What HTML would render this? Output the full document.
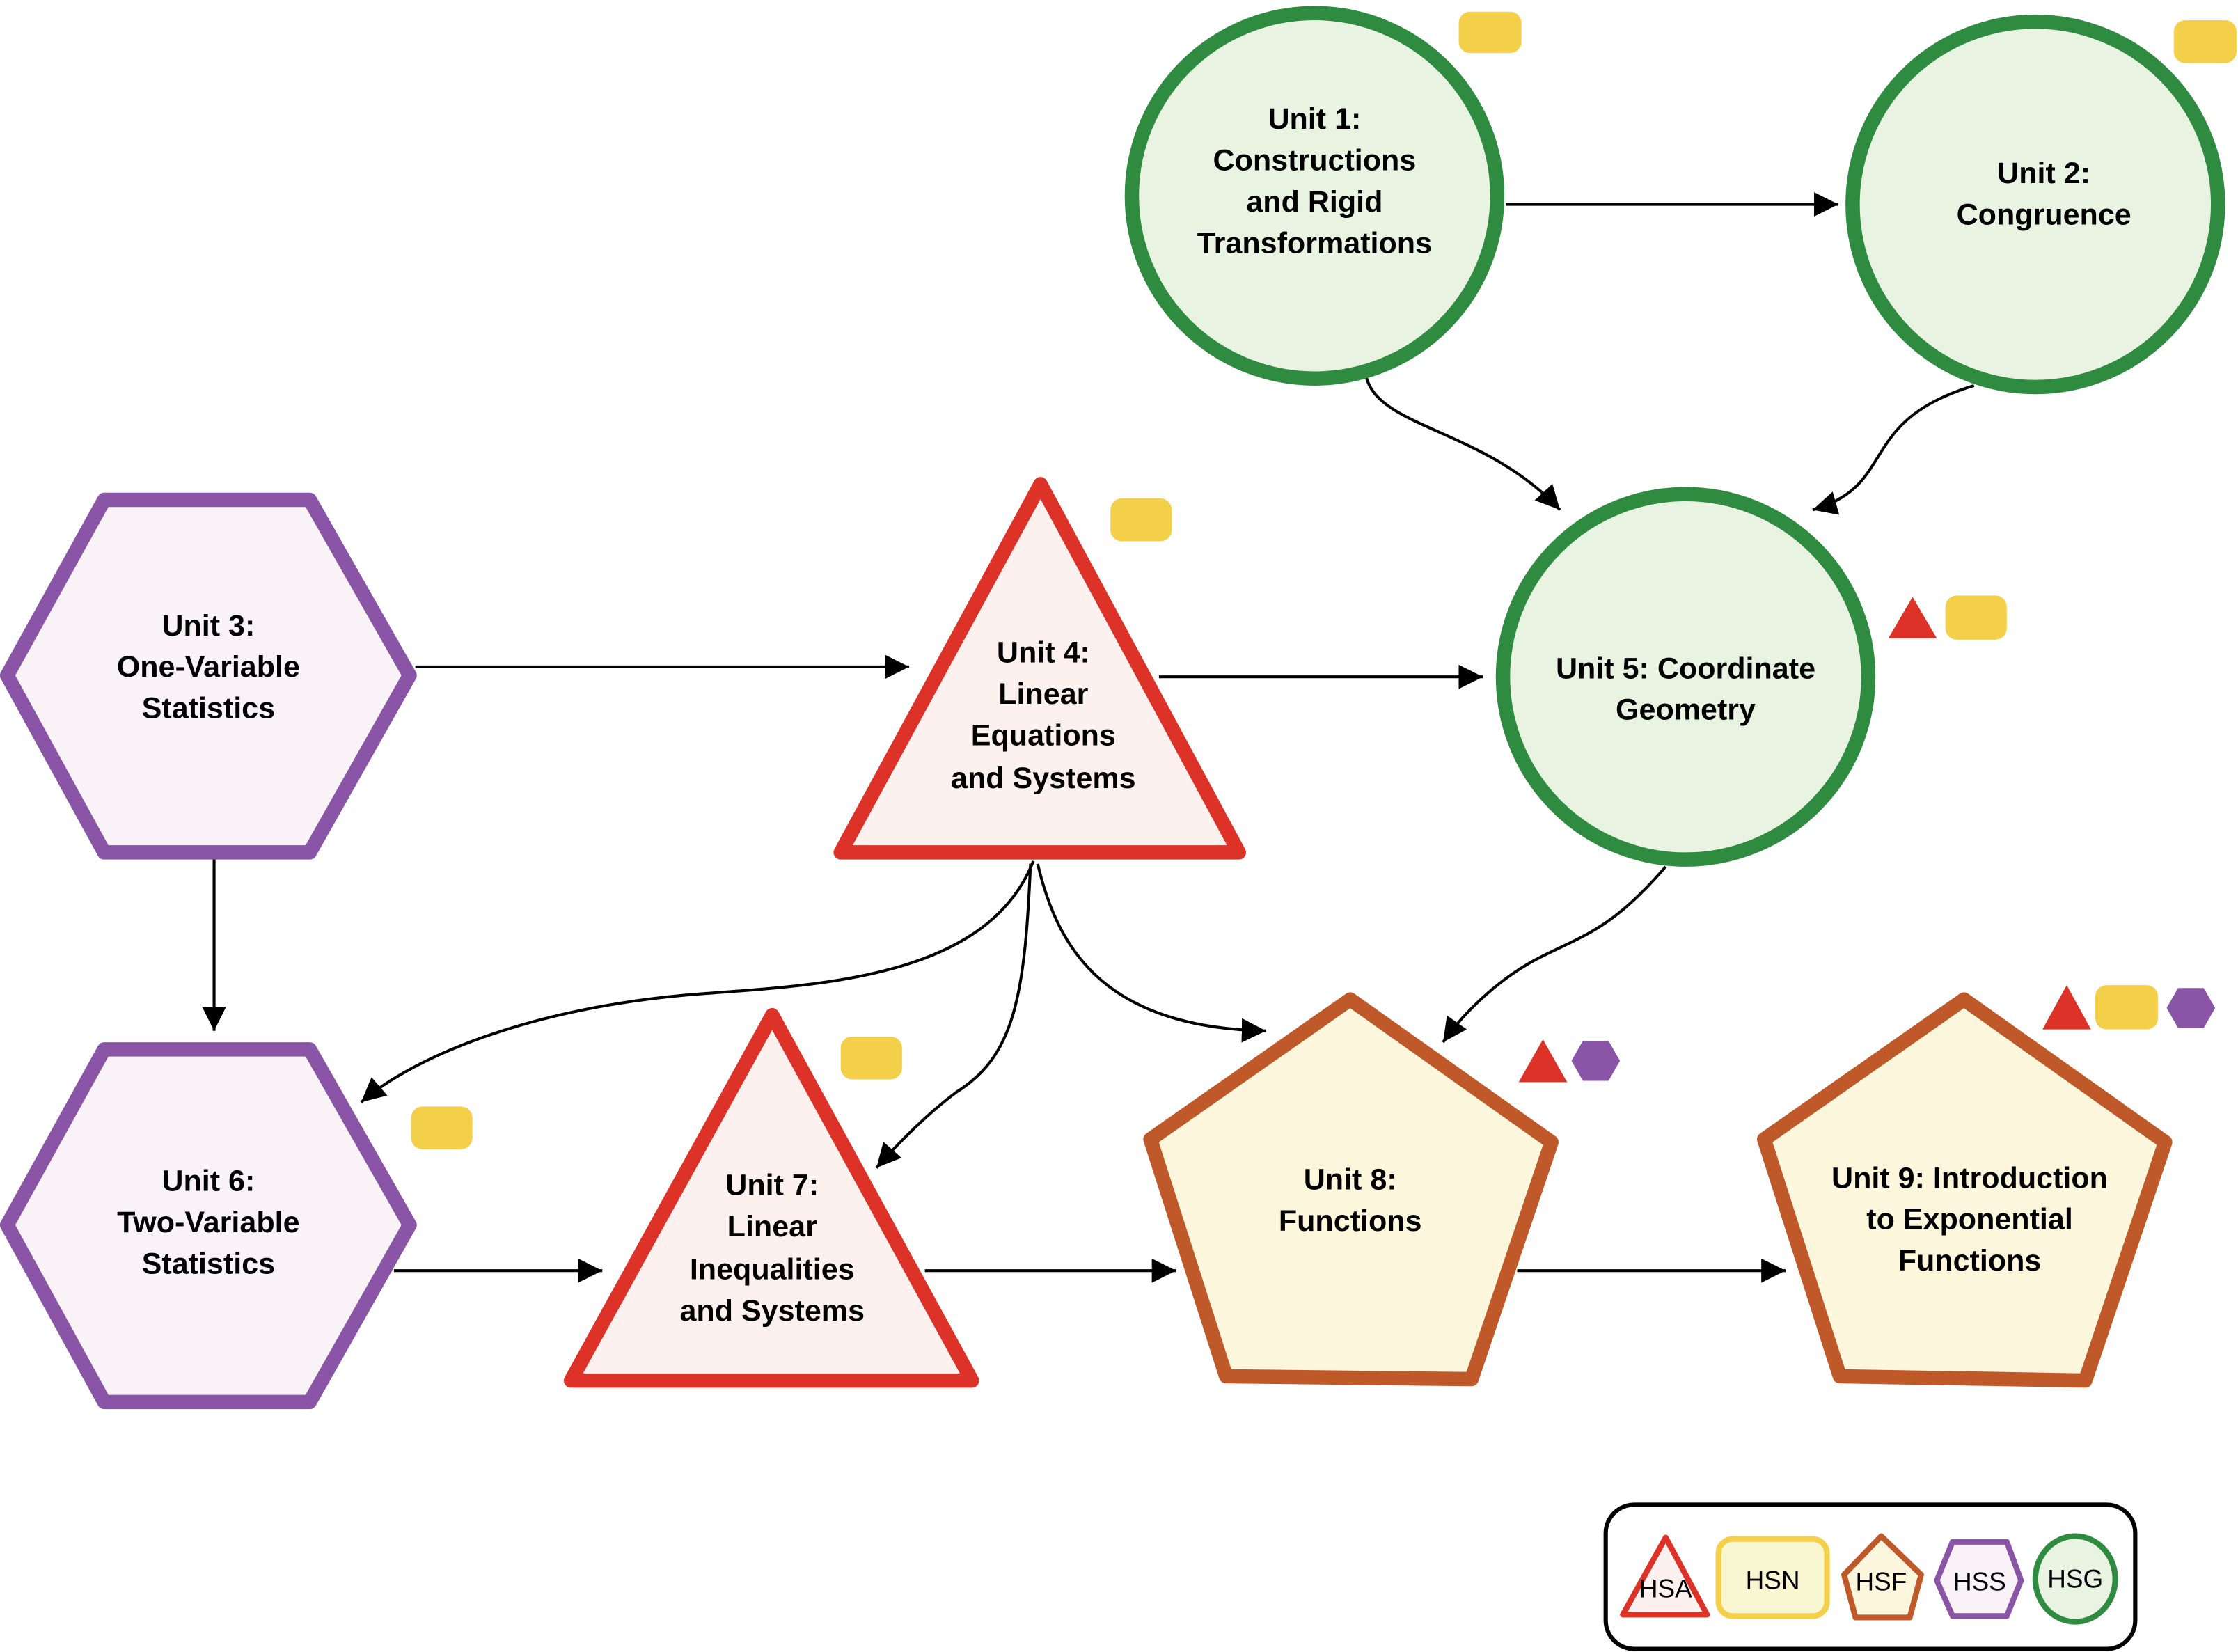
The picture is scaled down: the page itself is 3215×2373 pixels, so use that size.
<!DOCTYPE html>
<html><head><meta charset="utf-8"><style>
html,body{margin:0;padding:0;background:#fff;}
svg{display:block;}
text{font-family:"Liberation Sans",sans-serif;}
.t{font-weight:bold;font-size:21px;fill:#000;text-anchor:middle;}
.l{font-size:18px;fill:#000;text-anchor:middle;}
.a{fill:none;stroke:#000;stroke-width:2;}
</style></head><body>
<svg width="3215" height="2373" viewBox="0 0 1568 1157" xmlns="http://www.w3.org/2000/svg">
<defs><marker id="m" markerWidth="10" markerHeight="10" refX="9" refY="5" orient="auto" markerUnits="userSpaceOnUse"><path d="M0,-3 L18,5 L0,13 Z" transform="scale(0.55) translate(0,0)" fill="#000"/></marker>
<marker id="ar" viewBox="0 0 10 10" refX="10" refY="5" markerWidth="17" markerHeight="17" orient="auto" markerUnits="userSpaceOnUse"><path d="M0,0 L10,5 L0,10 Z" fill="#000"/></marker></defs>
<rect width="1568" height="1157" fill="#fff"/>
<!-- connectors -->
<path class="a" marker-end="url(#ar)" d="M1055,143 L1288,143"/>
<path class="a" marker-end="url(#ar)" d="M957,263 C965,300 1040,300 1093,357"/>
<path class="a" marker-end="url(#ar)" d="M1383,270 C1300,295 1330,340 1270,357"/>
<path class="a" marker-end="url(#ar)" d="M291,467 L637,467"/>
<path class="a" marker-end="url(#ar)" d="M812,474 L1039,474"/>
<path class="a" marker-end="url(#ar)" d="M150,601 L150,722"/>
<path class="a" marker-end="url(#ar)" d="M724,603 C690,690 560,690 480,697 C370,707 290,740 253,772"/>
<path class="a" marker-end="url(#ar)" d="M722,605 C718,700 710,740 670,765 C650,780 630,800 614,818"/>
<path class="a" marker-end="url(#ar)" d="M727,605 C740,660 770,720 887,722"/>
<path class="a" marker-end="url(#ar)" d="M1167,607 C1130,650 1110,655 1080,670 C1050,685 1025,710 1011,730"/>
<path class="a" marker-end="url(#ar)" d="M276,890 L422,890"/>
<path class="a" marker-end="url(#ar)" d="M648,890 L824,890"/>
<path class="a" marker-end="url(#ar)" d="M1063,890 L1251,890"/>
<!-- nodes -->
<g stroke-width="10" stroke-linejoin="round">
<circle cx="921" cy="137" r="128" fill="#e8f3e2" stroke="#2e8b40"/>
<circle cx="1426" cy="143" r="128" fill="#e8f3e2" stroke="#2e8b40"/>
<circle cx="1181" cy="474" r="128" fill="#e8f3e2" stroke="#2e8b40"/>
<polygon points="5,473 73,350 217,350 287,473 217,597 73,597" fill="#f9f3f8" stroke="#8a55a6"/>
<polygon points="5,858 73,735 217,735 287,858 217,982 73,982" fill="#f9f3f8" stroke="#8a55a6"/>
<polygon points="729,339 868,597 589,597" fill="#fdf1ef" stroke="#dc3228"/>
<polygon points="541,711 681,967 400,967" fill="#fdf1ef" stroke="#dc3228"/>
<polygon points="946,700 1087,800 1031,966 859,964 806,798" fill="#fbf6dc" stroke="#c0592a"/>
<polygon points="1376,700 1517,800 1461,967 1289,964 1236,798" fill="#fbf6dc" stroke="#c0592a"/>
</g>
<!-- badges -->
<g fill="#f4d04a">
<rect x="1022" y="8" width="44" height="29" rx="8"/>
<rect x="1523" y="14" width="44" height="30" rx="8"/>
<rect x="778" y="349" width="43" height="30" rx="8"/>
<rect x="1363" y="417" width="43" height="31" rx="8"/>
<rect x="589" y="726" width="43" height="30" rx="8"/>
<rect x="288" y="775" width="43" height="30" rx="8"/>
<rect x="1468" y="690" width="44" height="31" rx="8"/>
</g>
<g fill="#dc3228">
<polygon points="1323,447 1357,447 1340,418"/>
<polygon points="1064,758 1098,758 1081,728"/>
<polygon points="1431,721 1465,721 1448,690"/>
</g>
<g fill="#8a55a6">
<polygon points="1101,743 1109,729 1127,729 1135,743 1127,757 1109,757"/>
<polygon points="1518,706 1526,692 1544,692 1552,706 1544,720 1526,720"/>
</g>
<!-- labels -->
<text class="t"><tspan x="921" y="90">Unit 1:</tspan><tspan x="921" y="119">Constructions</tspan><tspan x="921" y="148">and Rigid</tspan><tspan x="921" y="177">Transformations</tspan></text>
<text class="t"><tspan x="1432" y="128">Unit 2:</tspan><tspan x="1432" y="157">Congruence</tspan></text>
<text class="t"><tspan x="146" y="445">Unit 3:</tspan><tspan x="146" y="474">One-Variable</tspan><tspan x="146" y="503">Statistics</tspan></text>
<text class="t"><tspan x="731" y="464">Unit 4:</tspan><tspan x="731" y="493">Linear</tspan><tspan x="731" y="522">Equations</tspan><tspan x="731" y="552">and Systems</tspan></text>
<text class="t"><tspan x="1181" y="475">Unit 5: Coordinate</tspan><tspan x="1181" y="504">Geometry</tspan></text>
<text class="t"><tspan x="146" y="834">Unit 6:</tspan><tspan x="146" y="863">Two-Variable</tspan><tspan x="146" y="892">Statistics</tspan></text>
<text class="t"><tspan x="541" y="837">Unit 7:</tspan><tspan x="541" y="866">Linear</tspan><tspan x="541" y="896">Inequalities</tspan><tspan x="541" y="925">and Systems</tspan></text>
<text class="t"><tspan x="946" y="833">Unit 8:</tspan><tspan x="946" y="862">Functions</tspan></text>
<text class="t"><tspan x="1380" y="832">Unit 9: Introduction</tspan><tspan x="1380" y="861">to Exponential</tspan><tspan x="1380" y="890">Functions</tspan></text>
<!-- legend -->
<rect x="1125" y="1054" width="371" height="101" rx="20" fill="#fff" stroke="#000" stroke-width="3"/>
<g stroke-width="4" stroke-linejoin="round">
<polygon points="1167,1077 1196,1131 1137,1131" fill="#fdf1ef" stroke="#dc3228"/>
<rect x="1204" y="1078" width="76" height="54" rx="10" fill="#f8f7d2" stroke="#f4d04a"/>
<polygon points="1318,1076 1346,1103 1338,1133 1300,1133 1292,1103" fill="#fbf6dc" stroke="#c0592a"/>
<polygon points="1357,1107 1368,1080 1406,1080 1416,1107 1406,1132 1368,1132" fill="#f9f3f8" stroke="#8a55a6"/>
<ellipse cx="1454" cy="1106" rx="28" ry="30" fill="#e8f3e2" stroke="#2e8b40"/>
</g>
<text class="l" x="1167" y="1119">HSA</text>
<text class="l" x="1242" y="1113">HSN</text>
<text class="l" x="1318" y="1114">HSF</text>
<text class="l" x="1387" y="1114">HSS</text>
<text class="l" x="1454" y="1112">HSG</text>
</svg>
</body></html>
